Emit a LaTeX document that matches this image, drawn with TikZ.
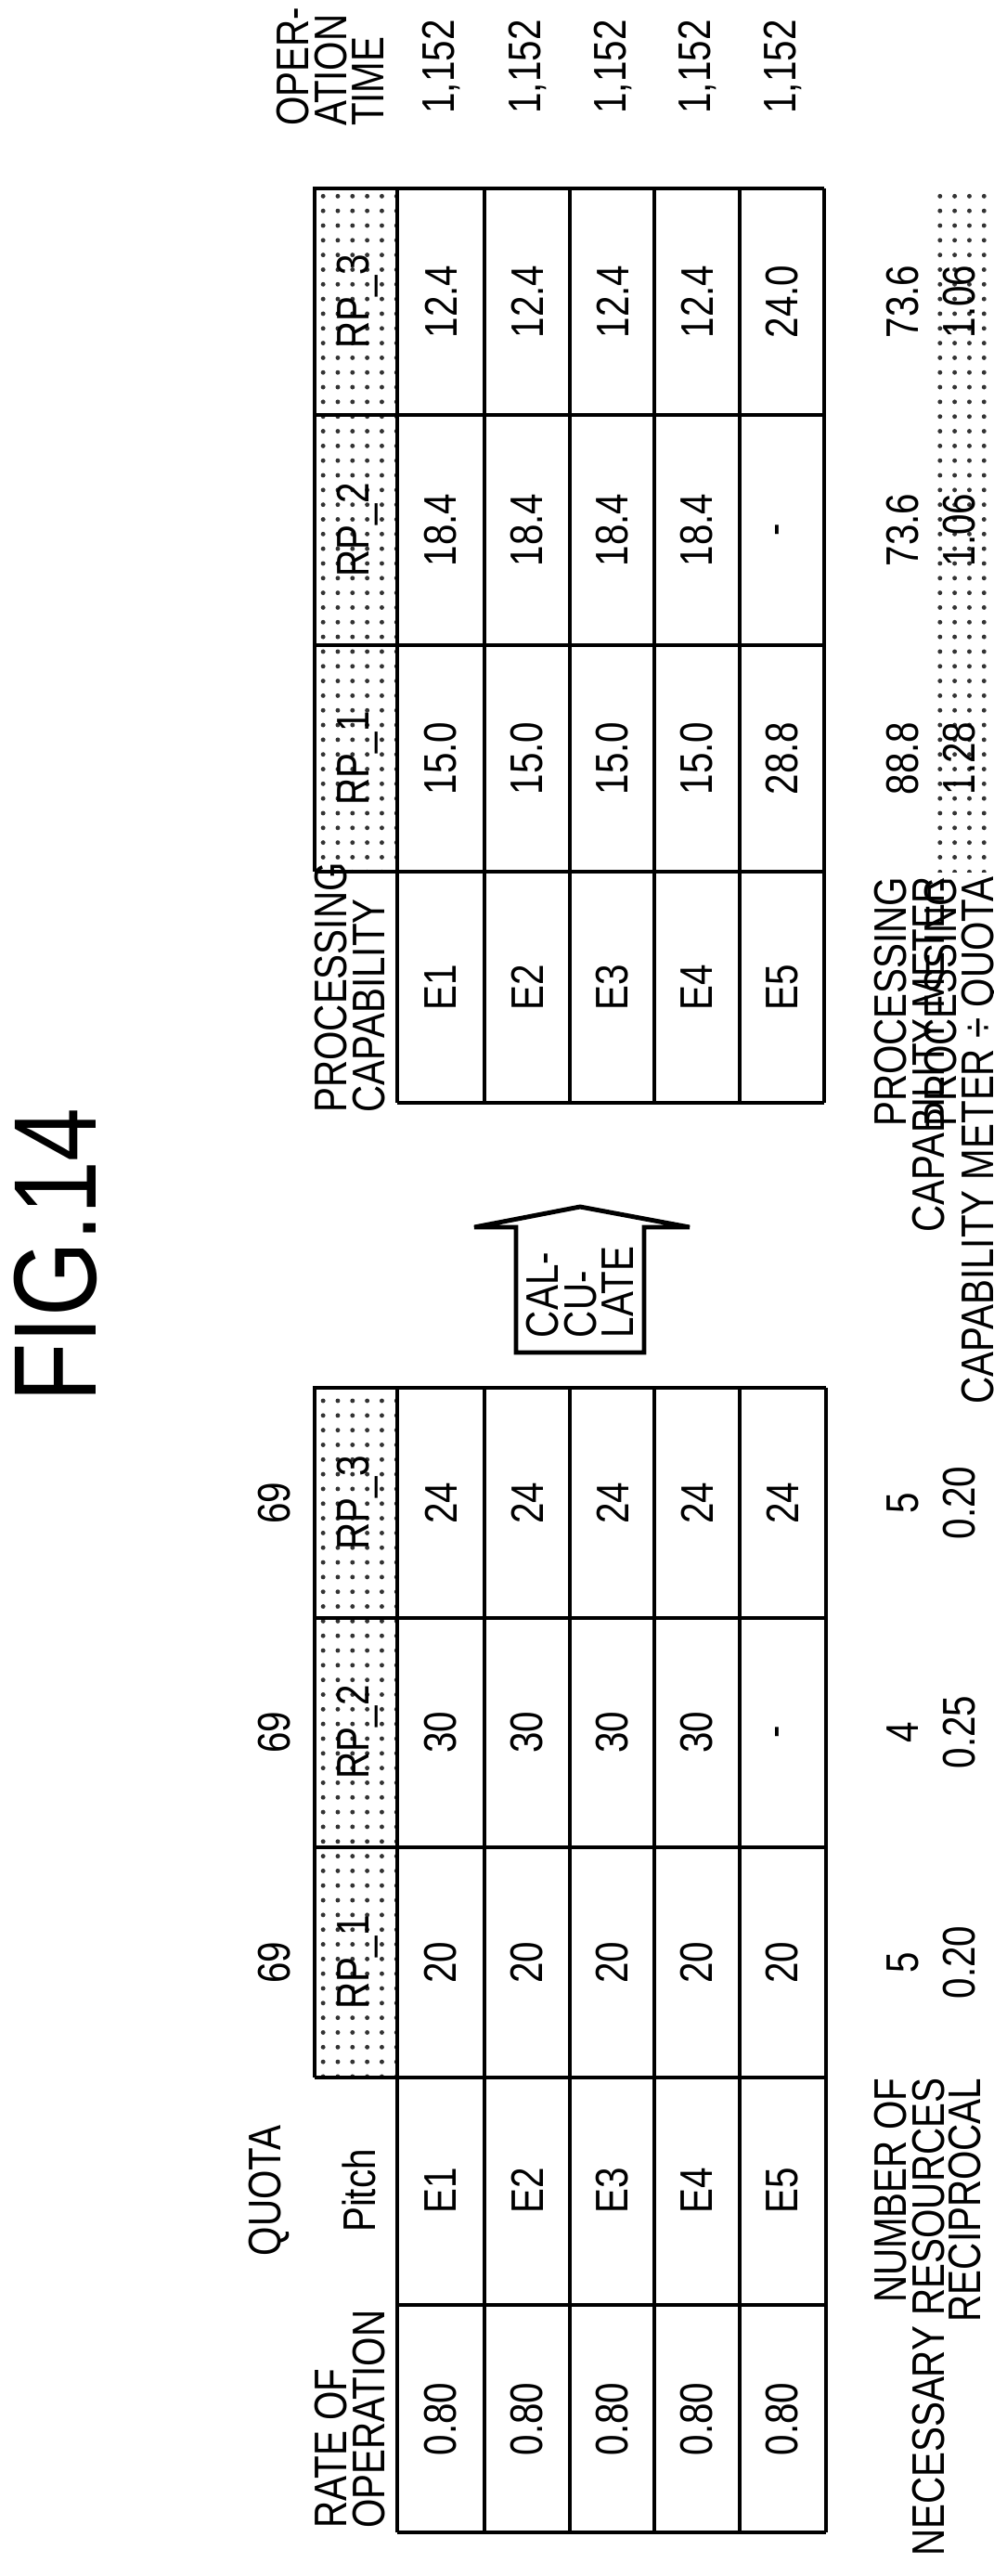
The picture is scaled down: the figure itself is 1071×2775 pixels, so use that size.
\documentclass[tikz,border=0pt]{standalone}
\usepackage{fontspec}
\setmainfont{Liberation Sans}[FakeStretch=0.82]
\usetikzlibrary{patterns.meta}
\tikzset{
  txt/.style={rotate=90, inner sep=0pt, font=\fontsize{14}{11.6}\selectfont},
  dotted fill/.style={pattern={Dots[radius=0.7pt, distance=4.5pt]}, pattern color=black!80},
  grid line/.style={line width=1.4pt}
}
\begin{document}
\begin{tikzpicture}[x=0.01cm, y=-0.01cm]
        \useasboundingbox (0,0) rectangle (1071,2775);

        % Title
        \node[rotate=90, font=\fontsize{36}{38}\selectfont] (title) at (60,1352) {FIG.14};

        % Left table: header shading and grid
        \fill[dotted fill] (339,1495) rectangle (428,2238);
        \draw[grid line] (339,2238) -- (339,1495) -- (428,1495);
        \foreach \y in {1743,1990,2238} \draw[grid line] (339,\y) -- (890,\y);
        \foreach \x in {428,522,614,705,797,890} \draw[grid line] (\x,1495) -- (\x,2728);
        \foreach \y in {1495,2483,2728} \draw[grid line] (428,\y) -- (890,\y);

        % Right table: header shading and grid
        \fill[dotted fill] (339,203) rectangle (428,939);
        \draw[grid line] (339,939) -- (339,203) -- (428,203);
        \foreach \y in {447,695,939} \draw[grid line] (339,\y) -- (888,\y);
        \foreach \x in {428,522,614,705,797,888} \draw[grid line] (\x,203) -- (\x,1188);
        \foreach \y in {203,1188} \draw[grid line] (428,\y) -- (888,\y);
        \fill[dotted fill] (1010,203) rectangle (1071,939);

        % Left table headers
        \foreach \y/\n in {1619/3,1866/2,2114/1} {
            \node[txt] (quota\n) at (296,\y) {69};
            \node[txt] (rpl\n) at (385,\y) {RP\_\n};
        }
        \node[txt] (quota) at (290,2360) {QUOTA};
        \node[txt] (pitch) at (387,2360) {Pitch};
        \node[txt, align=left] (rate) at (377,2606) {RATE OF\\OPERATION};

        % Left table body
        \foreach \x [count=\i] in {475,568,660,751,843} {
            \node[txt] (rate\i) at (\x,2606) {0.80};
            \node[txt] (pitch\i) at (\x,2360) {E\i};
            \node[txt] (l1r\i) at (\x,2114) {20};
            \node[txt] (l3r\i) at (\x,1619) {24};
        }
        \foreach \x/\v [count=\i] in {475/30,568/30,660/30,751/30,843/-}
            \node[txt] (l2r\i) at (\x,1866) {\v};

        % Left table footers
        \node[txt, anchor=east, align=right] (numres) at (980,2238) {NUMBER OF\\NECESSARY RESOURCES};
        \node[txt, anchor=east] (recip) at (1040,2238) {RECIPROCAL};
        \foreach \y/\a/\b [count=\i] in {2114/5/0.20,1866/4/0.25,1619/5/0.20} {
            \node[txt] (num\i) at (973,\y) {\a};
            \node[txt] (rec\i) at (1034,\y) {\b};
        }

        % Calculate arrow
        \draw[line width=1.4pt, fill=white] (556,1457) -- (694,1457) -- (694,1322) -- (743,1322)
            -- (625,1300) -- (511,1322) -- (556,1322) -- cycle;
        \node[txt, align=left] (calc) at (625,1392) {CAL-\\CU-\\LATE};

        % Right table headers
        \foreach \y/\n in {325/3,571/2,817/1}
            \node[txt] (rpr\n) at (385,\y) {RP\_\n};
        \node[txt, align=left] (proc) at (377,1064) {PROCESSING\\CAPABILITY};
        \node[txt, align=left] (optime) at (356,72) {OPER-\\ATION\\TIME};

        % Right table body
        \foreach \x/\a/\b/\c [count=\i] in {475/15.0/18.4/12.4,568/15.0/18.4/12.4,660/15.0/18.4/12.4,751/15.0/18.4/12.4,843/28.8/-/24.0} {
            \node[txt] (pe\i) at (\x,1064) {E\i};
            \node[txt] (r1r\i) at (\x,817) {\a};
            \node[txt] (r2r\i) at (\x,571) {\b};
            \node[txt] (r3r\i) at (\x,325) {\c};
            \node[txt] (time\i) at (\x,72) {1,152};
        }

        % Right table footers
        \node[txt, anchor=east, align=right] (meter) at (980,944) {PROCESSING\\CAPABILITY METER};
        \node[txt, anchor=east, align=right] (ratio) at (1038,944) {PROCESSING\\CAPABILITY METER ÷ QUOTA};
        \foreach \y/\a/\b [count=\i] in {817/88.8/1.28,571/73.6/1.06,325/73.6/1.06} {
            \node[txt] (mtr\i) at (973,\y) {\a};
            \node[txt] (rat\i) at (1034,\y) {\b};
        }
\end{tikzpicture}
\end{document}
